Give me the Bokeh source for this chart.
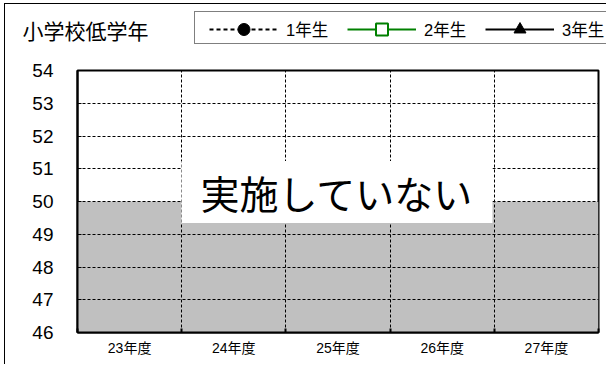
from bokeh.plotting import figure
from bokeh.layouts import column
from bokeh.models import (Range1d, FixedTicker, Label, Legend, LegendItem,
                          ColumnDataSource, InlineStyleSheet)
from bokeh.embed import file_html
from bokeh.resources import INLINE

# ---- data ----
categories = ["23年度", "24年度", "25年度", "26年度", "27年度"]
background = [50, 50, 50, 50, 50]          # gray area ("not conducted")
grade1 = [float("nan")] * 5                # 1年生 (no data)
grade2 = [float("nan")] * 5                # 2年生 (no data)
grade3 = [float("nan")] * 5                # 3年生 (no data)
y_ticks = [46, 47, 48, 49, 50, 51, 52, 53, 54]
series_names = ["1年生", "2年生", "3年生"]
title_text = "小学校低学年"
note_text = "実施していない"

xpos = [i + 0.5 for i in range(len(categories))]
src = ColumnDataSource(dict(x=xpos, bg=background, g1=grade1, g2=grade2, g3=grade3))

CJK = "Noto Sans CJK JP"
MIX = "Liberation Sans, Noto Sans CJK JP"

W = 606
TOP_H = 57

# ---------- header strip: title + legend ----------
head = figure(width=W, height=TOP_H, frame_width=W, frame_height=TOP_H,
              min_border=0, x_range=Range1d(0, W), y_range=Range1d(TOP_H, 0),
              x_axis_type=None, y_axis_type=None,
              output_backend="svg", toolbar_location=None)
head.frame_align = False
head.outline_line_color = None
head.background_fill_color = "white"
head.border_fill_color = "white"

# series (no data available)
l1 = head.line("x", "g1", source=src, line_color="black", line_width=2, line_dash="4 3")
s1 = head.scatter("x", "g1", source=src, marker="circle", size=12,
                  fill_color="black", line_color="black")
l2 = head.line("x", "g2", source=src, line_color="#008000", line_width=2)
s2 = head.scatter("x", "g2", source=src, marker="square", size=10,
                  fill_color="white", line_color="#008000", line_width=2)
l3 = head.line("x", "g3", source=src, line_color="black", line_width=2)
s3 = head.scatter("x", "g3", source=src, marker="triangle", size=11,
                  fill_color="black", line_color="black")
frame_dummy = head.line("x", "g1", source=src, line_alpha=0)   # invisible, for the legend frame

head.add_layout(Label(x=22, y=31, text=title_text, text_align="left",
                      text_baseline="middle", text_font=MIX,
                      text_font_size="21px", text_color="black"))

# legend frame (box behind the legend entries)
legend_box = Legend(items=[LegendItem(label=" ", renderers=[frame_dummy])],
                    location=(194, 13), glyph_width=1, glyph_height=31,
                    label_height=31, label_width=430, label_standoff=0,
                    padding=0, margin=0, border_line_color="black", border_line_width=1,
                    background_fill_color="white", background_fill_alpha=1,
                    label_text_font_size="1px")
head.add_layout(legend_box, "center")

legend = Legend(items=[LegendItem(label=series_names[0], renderers=[l1, s1]),
                       LegendItem(label=series_names[1], renderers=[l2, s2]),
                       LegendItem(label=series_names[2], renderers=[l3, s3])],
                orientation="horizontal", location=(209, 13),
                glyph_width=69, glyph_height=30, label_height=30, label_width=50,
                label_standoff=8, spacing=11, padding=0, margin=0,
                border_line_alpha=0, background_fill_alpha=0,
                label_text_font=MIX, label_text_font_size="16.5px",
                label_text_color="black")
head.add_layout(legend, "center")

# ---------- main chart ----------
p = figure(width=W, height=364 - TOP_H, frame_width=521, frame_height=262,
           min_border_left=77, min_border_right=8, min_border_top=13, min_border_bottom=32,
           x_range=Range1d(0, len(categories)), y_range=Range1d(y_ticks[0], y_ticks[-1]),
           output_backend="svg", toolbar_location=None)
p.frame_align = False
p.background_fill_color = "white"
p.border_fill_color = "white"
p.outline_line_color = "black"
p.outline_line_width = 2

# gray area
p.vbar(x="x", top="bg", bottom=y_ticks[0], width=1, source=src,
       fill_color="#C0C0C0", line_color=None)

# axes
p.xaxis.ticker = FixedTicker(ticks=xpos, minor_ticks=list(range(len(categories) + 1)))
p.xaxis.major_label_overrides = {x: c for x, c in zip(xpos, categories)}
p.xaxis.major_tick_in = 0
p.xaxis.major_tick_out = 0
p.xaxis.minor_tick_in = 4
p.xaxis.minor_tick_out = 0
p.xaxis.minor_tick_line_color = "black"
p.xaxis.minor_tick_line_width = 2
p.xaxis.axis_line_width = 2
p.xaxis.axis_line_color = "black"
p.xaxis.major_label_text_font = MIX
p.xaxis.major_label_text_font_size = "14px"
p.xaxis.major_label_text_color = "black"
p.xaxis.major_label_standoff = 7

p.yaxis.ticker = FixedTicker(ticks=y_ticks)
p.yaxis.major_tick_in = 4
p.yaxis.major_tick_out = 0
p.yaxis.major_tick_line_width = 1
p.yaxis.minor_tick_line_color = None
p.yaxis.axis_line_width = 2
p.yaxis.axis_line_color = "black"
p.yaxis.major_label_text_font = "Liberation Sans"
p.yaxis.major_label_text_font_size = "19px"
p.yaxis.major_label_text_color = "black"
p.yaxis.major_label_standoff = 24

# grids above the gray area
p.xgrid.ticker = FixedTicker(ticks=list(range(1, len(categories))))
p.ygrid.ticker = FixedTicker(ticks=y_ticks[1:-1])
for g in (p.xgrid, p.ygrid):
    g.grid_line_color = "black"
    g.grid_line_width = 1
    g.grid_line_dash = "3 2"
    g.level = "guide"

# note label with white box
p.add_layout(Label(x=2.49, y=50.29, text=note_text, text_align="center",
                   text_baseline="middle", text_font=CJK, text_font_size="39px",
                   text_color="black", background_fill_color="white",
                   padding=(19, 3)))

layout = column(head, p, spacing=0)
layout.stylesheets = [InlineStyleSheet(css="""
:host { position: relative; }
:host::after { content: ""; position: absolute; left: 4px; top: 3px; right: 0; bottom: 0;
  border-left: 1px solid #000; border-top: 1px solid #000; pointer-events: none; }
""")]
open("out.html", "w").write(file_html(layout, INLINE))
